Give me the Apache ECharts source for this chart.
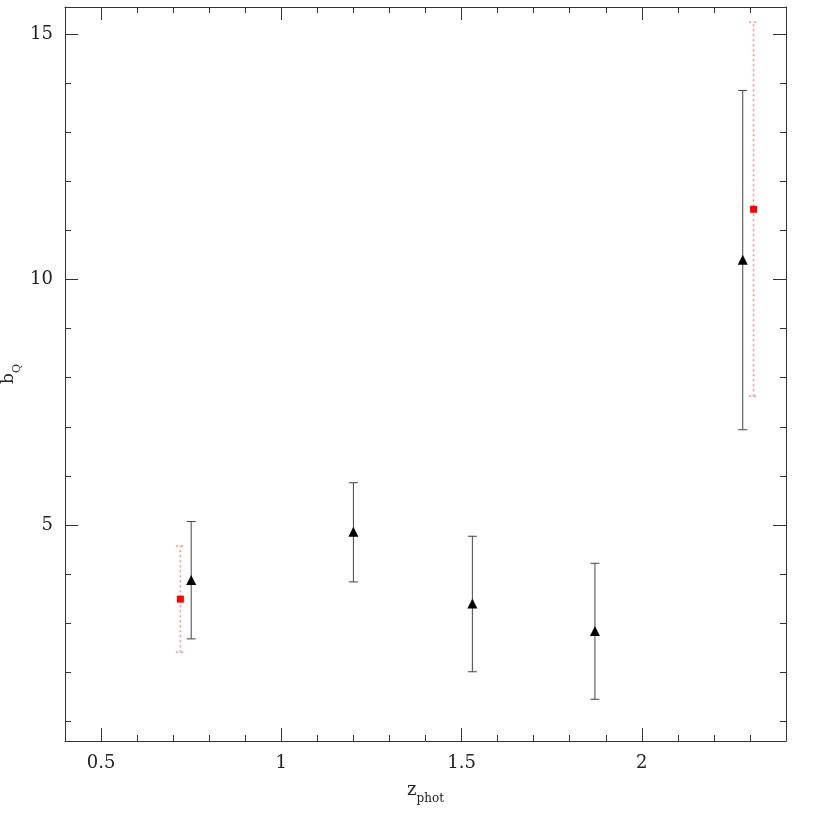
<!DOCTYPE html>
<html>
<head>
<meta charset="utf-8">
<script src="https://cdn.jsdelivr.net/npm/echarts@6/dist/echarts.min.js"></script>
<style>html,body{margin:0;padding:0;background:#fff}#c{width:830px;height:830px}</style>
</head>
<body>
<div id="c"></div>
<script>
// Data
var blackX = [0.75, 1.20, 1.53, 1.87, 2.28];
var blackY = [3.88, 4.86, 3.40, 2.84, 10.40];
var blackLow = [2.68, 3.84, 2.01, 1.45, 6.94];
var blackHigh = [5.07, 5.86, 4.77, 4.22, 13.85];

var redX = [0.72, 2.31];
var redY = [3.49, 11.43];
var redLow = [2.41, 7.62];
var redHigh = [4.57, 15.24];

var xMajor = [0.5, 1, 1.5, 2];
var xMinor = [0.5, 0.6, 0.7, 0.8, 0.9, 1.0, 1.1, 1.2, 1.3, 1.4, 1.5, 1.6, 1.7, 1.8, 1.9, 2.0, 2.1, 2.2, 2.3];
var yMajor = [5, 10, 15];
var yMinor = [1, 2, 3, 4, 5, 6, 7, 8, 9, 10, 11, 12, 13, 14, 15];

var X_MIN = 0.4, X_MAX = 2.4, Y_MIN = 0.6, Y_MAX = 15.55;
var FONT = 'DejaVu Serif';
var AX = '#333';

function mkAxis(type, pos, ticks, len, labels, showLine) {
  var a = {
    type: 'value', position: pos,
    min: type === 'x' ? X_MIN : Y_MIN,
    max: type === 'x' ? X_MAX : Y_MAX,
    splitLine: { show: false },
    axisLine: { show: showLine, onZero: false, lineStyle: { color: AX, width: 1 } },
    axisTick: { show: true, inside: true, length: len, customValues: ticks, lineStyle: { color: AX, width: 1 } },
    axisLabel: labels ? {
      show: true, customValues: labels, fontFamily: FONT, fontSize: 18, color: '#222',
      margin: type === 'x' ? 13 : 12,
      formatter: function (v) { return String(v); }
    } : { show: false }
  };
  return a;
}

var xAxes = [
  mkAxis('x', 'bottom', xMinor, 6, null, true),
  mkAxis('x', 'bottom', xMajor, 13, xMajor, false),
  mkAxis('x', 'top', xMinor, 6, null, true),
  mkAxis('x', 'top', xMajor, 13, null, false)
];
xAxes[1].name = '{m|z}{s|phot}';
xAxes[1].nameLocation = 'middle';
xAxes[1].nameGap = 36;
xAxes[1].nameMoveOverlap = false;
xAxes[1].nameTextStyle = { rich: {
  m: { fontFamily: FONT, fontSize: 18, color: '#222', verticalAlign: 'bottom', lineHeight: 22 },
  s: { fontFamily: FONT, fontSize: 12, color: '#222', verticalAlign: 'bottom', lineHeight: 14, padding: [0,0,-6,0] }
} };

var yAxes = [
  mkAxis('y', 'left', yMinor, 6, null, true),
  mkAxis('y', 'left', yMajor, 13, yMajor, false),
  mkAxis('y', 'right', yMinor, 6, null, true),
  mkAxis('y', 'right', yMajor, 13, null, false)
];
yAxes[1].name = '{m|b}{s|Q}';
yAxes[1].nameLocation = 'middle';
yAxes[1].nameRotate = 90;
yAxes[1].nameGap = 48;
yAxes[1].nameMoveOverlap = false;
yAxes[1].nameTextStyle = { rich: {
  m: { fontFamily: FONT, fontSize: 17, color: '#222', verticalAlign: 'bottom', lineHeight: 20 },
  s: { fontFamily: FONT, fontSize: 11, color: '#222', verticalAlign: 'bottom', lineHeight: 12, padding: [0,0,-6,0] }
} };

function errData(xs, lo, hi) {
  return xs.map(function (x, i) { return [x, lo[i], hi[i]]; });
}
function errRender(color, dash, capW, lw) {
  return function (params, api) {
    var x = api.value(0);
    var pLo = api.coord([x, api.value(1)]);
    var pHi = api.coord([x, api.value(2)]);
    var st = { stroke: color, lineWidth: lw, lineDash: dash };
    return {
      type: 'group',
      children: [
        { type: 'line', shape: { x1: pLo[0], y1: pLo[1], x2: pHi[0], y2: pHi[1] }, style: st },
        { type: 'line', shape: { x1: pLo[0] - capW, y1: pLo[1], x2: pLo[0] + capW, y2: pLo[1] }, style: st },
        { type: 'line', shape: { x1: pHi[0] - capW, y1: pHi[1], x2: pHi[0] + capW, y2: pHi[1] }, style: st }
      ]
    };
  };
}

var option = {
  backgroundColor: '#fff',
  animation: false,
  grid: { left: 65, top: 7, right: 44, bottom: 89, containLabel: false, outerBoundsMode: 'none' },
  xAxis: xAxes,
  yAxis: yAxes,
  series: [
    { type: 'custom', name: 'redErr', renderItem: errRender('#ff8a8a', [2, 3], 4.5, 1.5),
      data: errData(redX, redLow, redHigh), encode: { x: 0, y: [1, 2] }, z: 2 },
    { type: 'custom', name: 'blackErr', renderItem: errRender('#444', null, 4.5, 1),
      data: errData(blackX, blackLow, blackHigh), encode: { x: 0, y: [1, 2] }, z: 2 },
    { type: 'scatter', name: 'red', symbol: 'rect', symbolSize: 7,
      itemStyle: { color: '#ff0000', opacity: 1 },
      data: redX.map(function (x, i) { return [x, redY[i]]; }), z: 3 },
    { type: 'scatter', name: 'black', symbol: 'triangle', symbolSize: 10,
      itemStyle: { color: '#000', opacity: 1 },
      data: blackX.map(function (x, i) { return [x, blackY[i]]; }), z: 3 }
  ]
};
var chart = echarts.init(document.getElementById('c'), null, { renderer: 'canvas' });
chart.setOption(option);
</script>
</body>
</html>
